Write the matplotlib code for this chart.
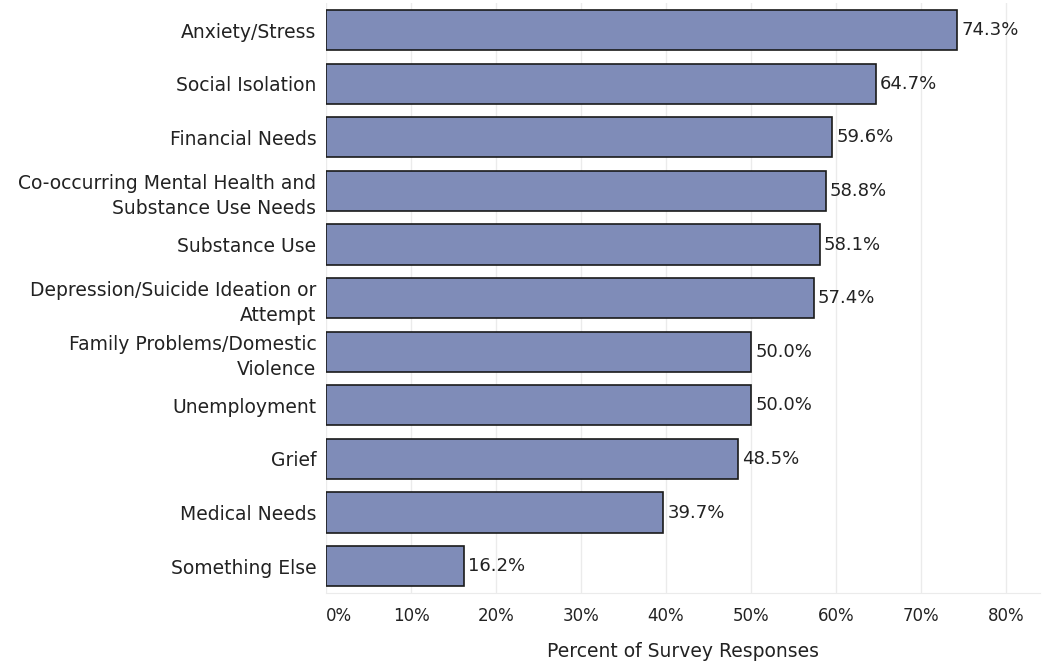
import matplotlib
matplotlib.use("Agg")
import matplotlib.pyplot as plt
import numpy as np

categories = [
    "Anxiety/Stress",
    "Social Isolation",
    "Financial Needs",
    "Co-occurring Mental Health and\nSubstance Use Needs",
    "Substance Use",
    "Depression/Suicide Ideation or\nAttempt",
    "Family Problems/Domestic\nViolence",
    "Unemployment",
    "Grief",
    "Medical Needs",
    "Something Else",
]
values = [74.3, 64.7, 59.6, 58.8, 58.1, 57.4, 50.0, 50.0, 48.5, 39.7, 16.2]
xticks = [0, 10, 20, 30, 40, 50, 60, 70, 80]

fig = plt.figure(figsize=(10.45, 6.64), dpi=100)
ax = fig.add_axes([0.312, 0.107, 0.683, 0.888])

y = np.arange(len(categories))
ax.barh(y, values, height=0.75, color="#7f8cb8", edgecolor="#1a1a1a", linewidth=1.2, zorder=3)
for yi, v in zip(y, values):
    ax.text(v + 0.5, yi, f"{v:.1f}%", va="center", ha="left", fontsize=13, color="#222222")

ax.set_yticks(y)
ax.set_yticklabels(categories, fontsize=13.5, color="#222222", linespacing=1.4)
ax.set_ylim(len(categories) - 0.5, -0.5)
ax.set_xlim(0, 84)
ax.set_xticks(xticks)
ax.set_xticklabels([f"{t}%" for t in xticks], fontsize=12, color="#222222")
ax.get_xticklabels()[0].set_horizontalalignment("left")
ax.set_xlabel("Percent of Survey Responses", fontsize=13.5, color="#222222", labelpad=12)

ax.grid(axis="x", color="#ebebeb", linewidth=1, zorder=0)
ax.tick_params(axis="y", length=0, pad=7)
ax.tick_params(axis="x", length=0, pad=10)
for s in ["top", "right", "left"]:
    ax.spines[s].set_visible(False)
ax.spines["bottom"].set_color("#ebebeb")

fig.savefig("out.png", dpi=100)
